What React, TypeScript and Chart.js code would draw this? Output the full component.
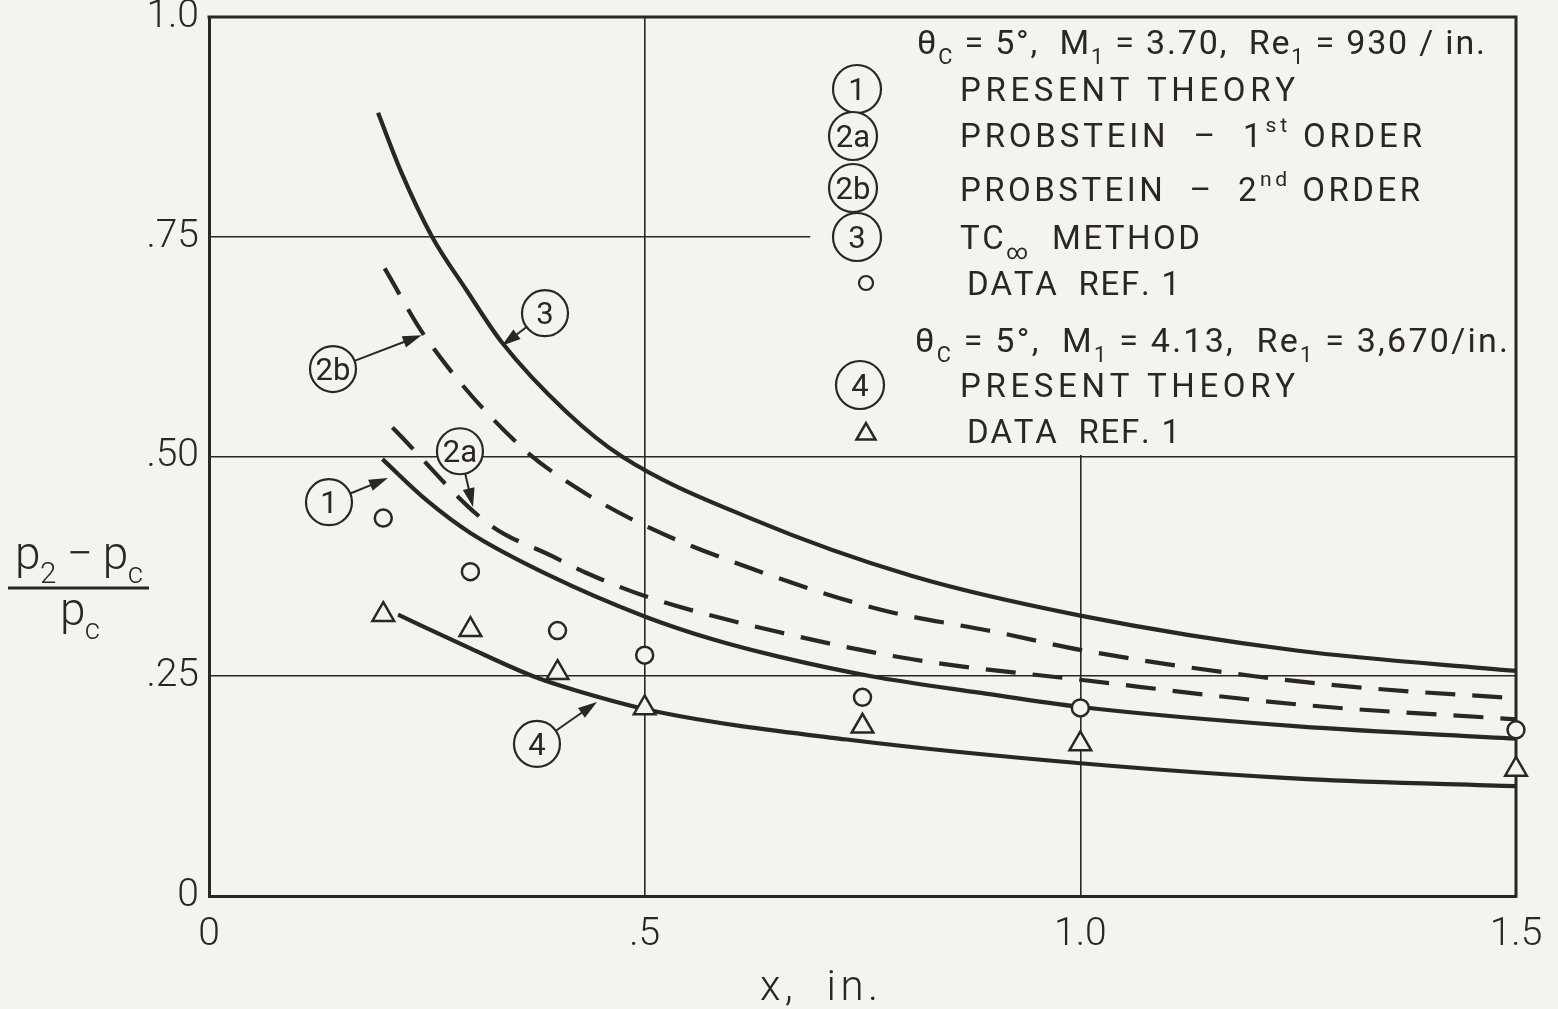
import { useEffect, useRef } from 'react';
import { Chart, registerables } from 'chart.js';
import type { Plugin } from 'chart.js';

Chart.register(...registerables);

const INK = '#2a2624';
const PAPER = '#f3f3ef';
const FACE = 'Roboto, "DejaVu Sans", sans-serif';

// Axis ticks
const xTickValues = [0, 0.5, 1.0, 1.5];
const xTickLabels = ['0', '.5', '1.0', '1.5'];
const yTickValues = [0, 0.25, 0.5, 0.75, 1.0];
const yTickLabels = ['0', '.25', '.50', '.75', '1.0'];

// (1) present theory, M1 = 3.70
const theory1X = [0.199, 0.25, 0.3, 0.39, 0.5, 0.578, 0.655, 0.76, 0.886, 1.0, 1.25, 1.5];
const theory1Y = [0.497, 0.45, 0.413, 0.365, 0.318, 0.292, 0.272, 0.25, 0.231, 0.215, 0.193, 0.179];

// (2a) Probstein, first order
const probstein1X = [0.2105, 0.32, 0.395, 0.432, 0.501, 0.655, 0.809, 1.0, 1.26, 1.5];
const probstein1Y = [0.533, 0.424, 0.386, 0.368, 0.341, 0.3, 0.269, 0.246, 0.217, 0.201];

// (2b) Probstein, second order
const probstein2X = [0.2016, 0.249, 0.356, 0.424, 0.501, 0.624, 0.77, 0.905, 1.0, 1.2, 1.336, 1.5];
const probstein2Y = [0.714, 0.635, 0.513, 0.463, 0.421, 0.372, 0.326, 0.3, 0.28, 0.25, 0.236, 0.225];

// (3) TC-infinity method
const tcX = [0.194, 0.22, 0.256, 0.295, 0.336, 0.41, 0.474, 0.623, 0.807, 1.0, 1.25, 1.5];
const tcY = [0.891, 0.825, 0.75, 0.69, 0.63, 0.551, 0.5, 0.429, 0.364, 0.319, 0.279, 0.256];

// (4) present theory, M1 = 4.13
const theory4X = [0.217, 0.295, 0.372, 0.424, 0.517, 0.732, 1.0, 1.26, 1.5];
const theory4Y = [0.32, 0.284, 0.25, 0.233, 0.209, 0.178, 0.151, 0.133, 0.125];

// Measured data, Ref. 1
const dataM370X = [0.2, 0.3, 0.4, 0.5, 0.75, 1.0, 1.5];
const dataM370Y = [0.43, 0.369, 0.302, 0.274, 0.226, 0.214, 0.189];
const dataM413X = [0.2, 0.3, 0.4, 0.5, 0.75, 1.0, 1.5];
const dataM413Y = [0.32, 0.303, 0.254, 0.214, 0.193, 0.173, 0.144];

// Circled curve labels with their arrow tips (data units)
const calloutLabels = ['1', '2a', '2b', '3', '4'];
const calloutCenters = [
  [0.1377, 0.448],
  [0.288, 0.506],
  [0.1423, 0.5995],
  [0.3856, 0.663],
  [0.3764, 0.173],
];
const calloutTips = [
  [0.2054, 0.4755],
  [0.303, 0.4425],
  [0.244, 0.638],
  [0.336, 0.626],
  [0.4453, 0.2207],
];

// Corner of the blank panel that holds the key (data units)
const keyPanelX = 0.69;
const keyPanelY = 0.5;

type Seg = [string, ('sub' | 'sup')?];

const pts = (xs: number[], ys: number[]) => xs.map((x, i) => ({ x, y: ys[i] }));

function fitRich(
  ctx: CanvasRenderingContext2D,
  segs: Seg[],
  x0: number,
  x1: number,
  baseline: number,
  size: number,
  weight = '400'
) {
  const setFont = (m?: string) => {
    ctx.font = `${weight} ${m ? size * 0.64 : size}px ${FACE}`;
  };
  let natural = 0;
  let count = 0;
  for (const [t, m] of segs) {
    setFont(m);
    for (const ch of t) {
      natural += ctx.measureText(ch).width;
      count++;
    }
  }
  const gap = count > 1 ? (x1 - x0 - natural) / (count - 1) : 0;
  let x = x0;
  ctx.textAlign = 'left';
  ctx.textBaseline = 'alphabetic';
  for (const [t, m] of segs) {
    setFont(m);
    const dy = m === 'sub' ? size * 0.3 : m === 'sup' ? -size * 0.45 : 0;
    for (const ch of t) {
      ctx.fillText(ch, x, baseline + dy);
      x += ctx.measureText(ch).width + gap;
    }
  }
}

function circledLabel(ctx: CanvasRenderingContext2D, cx: number, cy: number, r: number, text: string) {
  ctx.beginPath();
  ctx.arc(cx, cy, r, 0, Math.PI * 2);
  ctx.fillStyle = PAPER;
  ctx.fill();
  ctx.lineWidth = 2.2;
  ctx.strokeStyle = INK;
  ctx.stroke();
  ctx.fillStyle = INK;
  ctx.font = `400 31px ${FACE}`;
  ctx.textAlign = 'center';
  ctx.textBaseline = 'alphabetic';
  ctx.fillText(text, cx, cy + 11);
}

function arrow(ctx: CanvasRenderingContext2D, x0: number, y0: number, x1: number, y1: number) {
  const a = Math.atan2(y1 - y0, x1 - x0);
  const c = Math.cos(a);
  const s = Math.sin(a);
  ctx.strokeStyle = INK;
  ctx.fillStyle = INK;
  ctx.lineWidth = 2;
  ctx.beginPath();
  ctx.moveTo(x0, y0);
  ctx.lineTo(x1 - c * 10, y1 - s * 10);
  ctx.stroke();
  ctx.beginPath();
  ctx.moveTo(x1, y1);
  ctx.lineTo(x1 - 19 * c + 6 * s, y1 - 19 * s - 6 * c);
  ctx.lineTo(x1 - 19 * c - 6 * s, y1 - 19 * s + 6 * c);
  ctx.closePath();
  ctx.fill();
}

function triangleMark(ctx: CanvasRenderingContext2D, x: number, y: number, r: number) {
  const k = Math.cos(Math.PI / 6) * r;
  ctx.beginPath();
  ctx.moveTo(x, y - r);
  ctx.lineTo(x + k, y + r / 2);
  ctx.lineTo(x - k, y + r / 2);
  ctx.closePath();
  ctx.fillStyle = PAPER;
  ctx.fill();
  ctx.lineWidth = 2.5;
  ctx.strokeStyle = INK;
  ctx.stroke();
}

const keyRows: { segs: Seg[]; x0: number; x1: number; y: number; size: number }[] = [
  {
    segs: [['θ'], ['C', 'sub'], [' = 5°,  M'], ['1', 'sub'], [' = 3.70,  Re'], ['1', 'sub'], [' = 930 / in.']],
    x0: 917,
    x1: 1485,
    y: 42,
    size: 34,
  },
  { segs: [['PRESENT THEORY']], x0: 960, x1: 1295, y: 89, size: 33 },
  { segs: [['PROBSTEIN  –  1'], ['st', 'sup'], [' ORDER']], x0: 960, x1: 1422, y: 135, size: 33 },
  { segs: [['PROBSTEIN  –  2'], ['nd', 'sup'], [' ORDER']], x0: 960, x1: 1420, y: 189, size: 33 },
  { segs: [['TC'], ['∞', 'sub'], ['  METHOD']], x0: 960, x1: 1200, y: 237, size: 33 },
  { segs: [['DATA  REF. 1']], x0: 967, x1: 1180, y: 283, size: 33 },
  {
    segs: [['θ'], ['C', 'sub'], [' = 5°,  M'], ['1', 'sub'], [' = 4.13,  Re'], ['1', 'sub'], [' = 3,670/in.']],
    x0: 915,
    x1: 1508,
    y: 340,
    size: 34,
  },
  { segs: [['PRESENT THEORY']], x0: 960, x1: 1295, y: 385, size: 33 },
  { segs: [['DATA  REF. 1']], x0: 967, x1: 1180, y: 431, size: 33 },
];

const keyBadges: [number, number, string][] = [
  [857, 89, '1'],
  [853, 136, '2a'],
  [853, 188, '2b'],
  [857, 237, '3'],
  [860, 385, '4'],
];

const sheetPlugin: Plugin = {
  id: 'sheet',
  beforeDatasetsDraw(chart) {
    const { ctx, chartArea: a, scales } = chart;
    const left = scales.x.getPixelForValue(keyPanelX);
    const bottom = scales.y.getPixelForValue(keyPanelY) - 1.5;
    ctx.save();
    ctx.fillStyle = PAPER;
    ctx.fillRect(left, a.top, a.right - left, bottom - a.top);
    ctx.strokeStyle = INK;
    ctx.lineWidth = 3;
    ctx.beginPath();
    ctx.moveTo(a.left - 1.5, a.top);
    ctx.lineTo(a.right, a.top);
    ctx.lineTo(a.right, a.bottom + 1.5);
    ctx.stroke();
    ctx.restore();
  },
  afterDraw(chart) {
    const { ctx, scales } = chart;
    const px = (v: number) => scales.x.getPixelForValue(v);
    const py = (v: number) => scales.y.getPixelForValue(v);
    ctx.save();

    // curve call-outs
    calloutLabels.forEach((label, i) => {
      const cx = px(calloutCenters[i][0]);
      const cy = py(calloutCenters[i][1]);
      const tx = px(calloutTips[i][0]);
      const ty = py(calloutTips[i][1]);
      const r = 23;
      const d = Math.hypot(tx - cx, ty - cy);
      arrow(ctx, cx + ((tx - cx) / d) * r, cy + ((ty - cy) / d) * r, tx, ty);
      circledLabel(ctx, cx, cy, r, label);
    });

    // key
    keyRows.forEach((row) => {
      ctx.fillStyle = INK;
      fitRich(ctx, row.segs, row.x0, row.x1, row.y + 12, row.size, '400');
    });
    keyBadges.forEach(([x, y, t]) => circledLabel(ctx, x, y, 24, t));
    ctx.beginPath();
    ctx.arc(866, 283, 7, 0, Math.PI * 2);
    ctx.lineWidth = 2.2;
    ctx.strokeStyle = INK;
    ctx.stroke();
    triangleMark(ctx, 866, 434, 11);

    // y-axis title as a fraction
    ctx.fillStyle = INK;
    fitRich(ctx, [['p'], ['2', 'sub'], [' − '], ['p'], ['c', 'sub']], 15, 143, 569, 46, '300');
    ctx.lineWidth = 3;
    ctx.beginPath();
    ctx.moveTo(8, 588);
    ctx.lineTo(149, 588);
    ctx.stroke();
    fitRich(ctx, [['p'], ['c', 'sub']], 60, 100, 625, 46, '300');

    // x-axis title
    fitRich(ctx, [['x,  in.']], 760, 878, 1000, 42, '300');
    ctx.restore();
  },
};

export default function App() {
  const canvasRef = useRef<HTMLCanvasElement | null>(null);

  useEffect(() => {
    const canvas = canvasRef.current;
    if (!canvas) return;

    const line = (data: { x: number; y: number }[], dashed: boolean) => ({
      data,
      showLine: true,
      borderColor: INK,
      borderWidth: 4.2,
      borderDash: dashed ? [30, 17] : [],
      borderCapStyle: 'butt' as const,
      pointRadius: 0,
      pointHoverRadius: 0,
      cubicInterpolationMode: 'monotone' as const,
      fill: false,
    });

    const chart = new Chart(canvas, {
      type: 'scatter',
      data: {
        datasets: [
          {
            data: pts(dataM370X, dataM370Y),
            pointStyle: 'circle',
            pointRadius: 8.5,
            pointBackgroundColor: PAPER,
            pointBorderColor: INK,
            pointBorderWidth: 2.5,
            showLine: false,
            clip: false,
          },
          {
            data: pts(dataM413X, dataM413Y),
            pointStyle: 'triangle',
            pointRadius: 12.5,
            pointBackgroundColor: PAPER,
            pointBorderColor: INK,
            pointBorderWidth: 2.5,
            showLine: false,
            clip: false,
          },
          line(pts(theory1X, theory1Y), false),
          line(pts(probstein1X, probstein1Y), true),
          line(pts(probstein2X, probstein2Y), true),
          line(pts(tcX, tcY), false),
          line(pts(theory4X, theory4Y), false),
        ] as any,
      },
      options: {
        animation: false,
        responsive: false,
        devicePixelRatio: 1,
        events: [],
        layout: { padding: { top: 17, right: 42, bottom: 0, left: 0 } },
        plugins: { legend: { display: false }, tooltip: { enabled: false } },
        scales: {
          x: {
            type: 'linear',
            min: 0,
            max: 1.5,
            afterBuildTicks: (axis: any) => {
              axis.ticks = xTickValues.map((value) => ({ value }));
            },
            afterFit: (axis: any) => {
              axis.height = 113;
              axis.paddingLeft = 0;
              axis.paddingRight = 0;
            },
            grid: { color: INK, lineWidth: 1.6, drawTicks: false },
            border: { color: INK, width: 3 },
            ticks: {
              padding: 16,
              maxRotation: 0,
              autoSkip: false,
              color: INK,
              font: { family: FACE, size: 39, weight: '300' as any },
              callback: (v: any) => xTickLabels[xTickValues.indexOf(Number(v))] ?? '',
            },
          },
          y: {
            type: 'linear',
            min: 0,
            max: 1,
            afterBuildTicks: (axis: any) => {
              axis.ticks = yTickValues.map((value) => ({ value }));
            },
            afterFit: (axis: any) => {
              axis.width = 209;
              axis.paddingTop = 0;
              axis.paddingBottom = 0;
            },
            grid: { color: INK, lineWidth: 1.6, drawTicks: false },
            border: { color: INK, width: 3 },
            ticks: {
              padding: 10,
              autoSkip: false,
              color: INK,
              font: { family: FACE, size: 39, weight: '300' as any },
              callback: (v: any) => yTickLabels[yTickValues.indexOf(Number(v))] ?? '',
            },
          },
        },
      },
      plugins: [sheetPlugin],
    });

    return () => chart.destroy();
  }, []);

  return (
    <div
      style={{
        position: 'absolute',
        left: 0,
        top: 0,
        width: 1558,
        height: 1009,
        background: PAPER,
      }}
    >
      <canvas ref={canvasRef} width={1558} height={1009} style={{ display: 'block' }} />
    </div>
  );
}
